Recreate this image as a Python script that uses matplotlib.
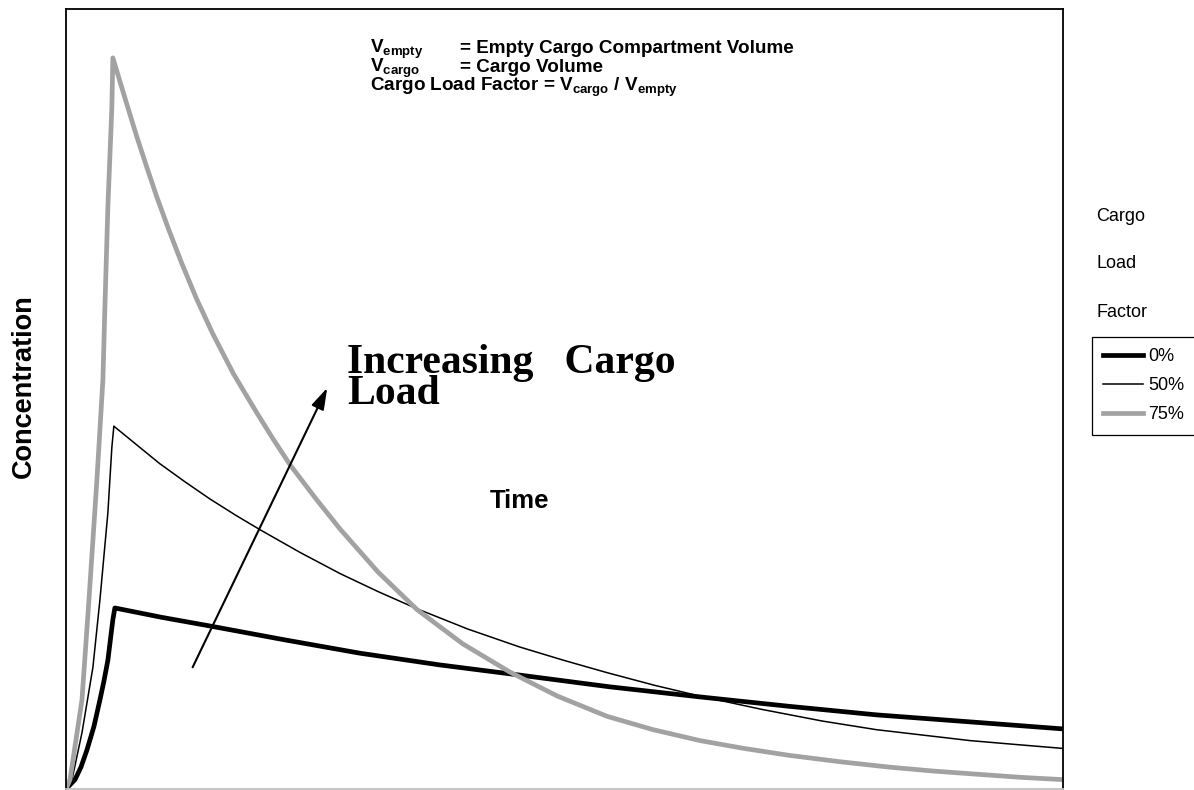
import matplotlib
matplotlib.use('Agg')
import matplotlib.pyplot as plt

W, H = 1194, 790

# Concentration curves (time and concentration in % of full scale)
t_0 = [0, 0.9, 1.5, 2.1, 2.8, 3.4, 3.8, 4.2, 4.7, 4.9,
       9.6, 14.4, 22.0, 29.5, 37.5, 45.5, 54.5, 63.6, 72.5, 81.3, 90.7, 100]
c_0 = [0, 1.2, 2.8, 5.0, 8.0, 11.4, 13.8, 16.5, 21.7, 23.2,
       22.0, 20.9, 19.1, 17.4, 15.9, 14.6, 13.1, 11.8, 10.6, 9.5, 8.6, 7.7]

t_50 = [0, 0.6, 1.6, 2.7, 3.4, 4.2, 4.6, 4.8,
        7.0, 9.4, 11.9, 14.4, 17.0, 19.5, 23.5, 27.5, 31.3, 35.2, 40.3, 45.5,
        49.9, 54.3, 59.0, 63.6, 69.8, 75.9, 81.3, 86.0, 90.7, 95.3, 100]
c_50 = [0, 1.2, 7.2, 15.6, 24.2, 35.4, 43.8, 46.5,
        44.2, 41.7, 39.4, 37.2, 35.1, 33.2, 30.3, 27.6, 25.3, 23.1, 20.5, 18.2,
        16.5, 14.9, 13.3, 11.9, 10.2, 8.7, 7.6, 6.9, 6.2, 5.7, 5.2]

t_75 = [0, 0.4, 1.6, 2.3, 3.1, 3.7, 3.9, 4.2, 4.6, 4.7,
        5.9, 7.1, 8.1, 9.1, 10.3, 11.6, 13.1, 14.7, 16.8, 19.0, 20.7, 22.5,
        25.0, 27.5, 31.3, 35.2, 39.8, 44.5, 49.3, 54.3, 58.9, 63.6, 68.0,
        72.6, 77.6, 82.6, 87.0, 91.3, 95.7, 100]
c_75 = [0, 1.2, 11.4, 24.2, 39.6, 52.4, 61.7, 74.6, 87.4, 93.7,
        88.6, 83.6, 79.7, 75.9, 71.7, 67.4, 62.8, 58.4, 53.2, 48.5, 45.0, 41.5,
        37.3, 33.3, 27.8, 23.0, 18.6, 15.0, 11.9, 9.3, 7.6, 6.2, 5.2,
        4.3, 3.5, 2.8, 2.3, 1.9, 1.5, 1.2]

labels = ['0%', '50%', '75%']

plt.rcParams['font.family'] = ['Liberation Sans', 'DejaVu Sans']
plt.rcParams['mathtext.fontset'] = 'custom'
plt.rcParams['mathtext.rm'] = 'Liberation Sans:bold'
plt.rcParams['mathtext.it'] = 'Liberation Sans:bold'
plt.rcParams['mathtext.bf'] = 'Liberation Sans:bold'
plt.rcParams['mathtext.default'] = 'rm'

fig = plt.figure(figsize=(W / 100, H / 100), dpi=100)
ax = fig.add_axes([66 / W, 1 - 789 / H, (1063 - 66) / W, (789 - 8.7) / H])


def fx(x):
    return x / W


def fy(y):
    return 1 - y / H


l0, = ax.plot(t_0, c_0, color='black', lw=3.4, solid_joinstyle='round', label=labels[0])
l50, = ax.plot(t_50, c_50, color='black', lw=1.1, label=labels[1])
l75, = ax.plot(t_75, c_75, color='#a2a2a2', lw=3.4, solid_joinstyle='round', label=labels[2])

ax.set_xlim(0, 100)
ax.set_ylim(0, 100)
ax.set_xticks([])
ax.set_yticks([])
for side in ['left', 'top', 'right']:
    ax.spines[side].set_color('black')
    ax.spines[side].set_linewidth(1.3)
ax.spines['bottom'].set_color('#c0c0c0')
ax.spines['bottom'].set_linewidth(1.3)

# arrow for the load trend
ax.annotate('', xy=(26.2, 51.4), xytext=(12.7, 15.6),
            arrowprops=dict(arrowstyle='-|>,head_length=0.65,head_width=0.2',
                            color='black', lw=1.5, mutation_scale=20,
                            shrinkA=0, shrinkB=0))

serif = dict(family='Liberation Serif', weight='bold', fontsize=30)
fig.text(fx(347), fy(373), 'Increasing   Cargo', va='baseline', ha='left', **serif)
fig.text(fx(347), fy(404), 'Load', va='baseline', ha='left', **serif)

# definitions block
top = dict(weight='bold', fontsize=13.6, va='baseline', ha='left')
fig.text(fx(370), fy(53), r'V$_{\rm empty}$', **top)
fig.text(fx(460), fy(53), '= Empty Cargo Compartment Volume', **top)
fig.text(fx(370), fy(72), r'V$_{\rm cargo}$', **top)
fig.text(fx(460), fy(72), '= Cargo Volume', **top)
fig.text(fx(370), fy(91), r'Cargo Load Factor = V$_{\rm cargo}$ / V$_{\rm empty}$', **top)

fig.text(fx(520), fy(501), 'Time', weight='bold', fontsize=18.5, ha='center', va='center')
fig.text(fx(24), fy(386), 'Concentration', weight='bold', fontsize=19.5,
         rotation=90, ha='center', va='center')

# legend title split over three lines
for word, yb in zip(['Cargo', 'Load', 'Factor'], [221, 268, 317]):
    fig.text(fx(1096), fy(yb), word, fontsize=13, ha='left', va='baseline')

leg = ax.legend(handles=[l0, l50, l75], loc='upper left',
                bbox_to_anchor=(fx(1092), fy(337)), bbox_transform=fig.transFigure,
                fontsize=13, handlelength=2.2, handletextpad=0.28,
                borderpad=0.62, labelspacing=0.67, borderaxespad=0,
                fancybox=False, framealpha=1, edgecolor='black')
leg.get_frame().set_linewidth(0.9)

fig.savefig('out.png', dpi=100)
